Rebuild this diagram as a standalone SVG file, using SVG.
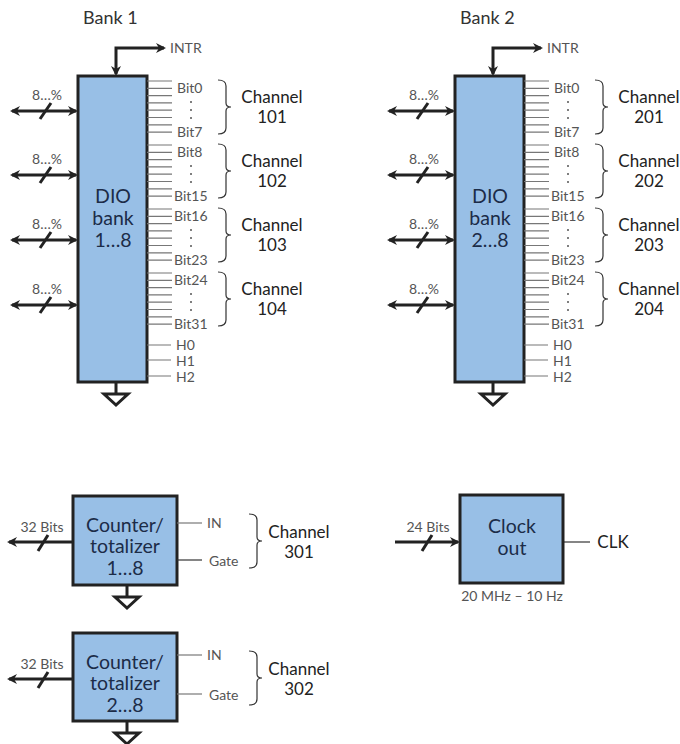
<svg xmlns="http://www.w3.org/2000/svg" width="680" height="744" viewBox="0 0 680 744">
<defs>
<marker id="ah" viewBox="0 0 10 10" refX="8" refY="5" markerWidth="10" markerHeight="10" markerUnits="userSpaceOnUse" orient="auto-start-reverse">
<path d="M0,0 L10,5 L0,10 L3,5 z" fill="#222"/>
</marker>
</defs>
<style>
.box{fill:#98bfe6;stroke:#222;stroke-width:3}
.thick{stroke:#222;stroke-width:3;fill:none}
.pin{stroke:#777;stroke-width:1.2}
.brace{stroke:#333;stroke-width:1.2;fill:none}
.gnd{stroke:#222;stroke-width:3;fill:none;stroke-linejoin:miter}
.title{font-family:Lato,"Open Sans","Liberation Sans",sans-serif;font-size:18px;fill:#333}
.boxt{font-family:Lato,"Open Sans","Liberation Sans",sans-serif;font-size:19.5px;fill:#1c2c48;text-anchor:middle}
.lbl{font-family:Lato,"Open Sans","Liberation Sans",sans-serif;font-size:14px;fill:#555}
.ch{font-family:Lato,"Open Sans","Liberation Sans",sans-serif;font-size:17px;fill:#222;text-anchor:middle}
.sm{font-family:Lato,"Open Sans","Liberation Sans",sans-serif;font-size:14px;fill:#555;text-anchor:middle}
.dot{fill:#555}
</style>
<rect width="680" height="744" fill="#fff"/>

<text class="title" x="83" y="24">Bank 1</text>
<text class="title" x="460" y="24">Bank 2</text>

<g id="connectors">
  <!-- Bank 1 -->
  <path class="thick" d="M164,48 L116,48 L116,74" marker-start="url(#ah)" marker-end="url(#ah)"/>
  <g>
    <line class="thick" x1="12" y1="111" x2="76" y2="111" marker-start="url(#ah)" marker-end="url(#ah)"/>
    <line class="thick" x1="12" y1="175" x2="76" y2="175" marker-start="url(#ah)" marker-end="url(#ah)"/>
    <line class="thick" x1="12" y1="240" x2="76" y2="240" marker-start="url(#ah)" marker-end="url(#ah)"/>
    <line class="thick" x1="12" y1="305" x2="76" y2="305" marker-start="url(#ah)" marker-end="url(#ah)"/>
    <line class="thick" x1="40" y1="119" x2="51" y2="103"/>
    <line class="thick" x1="40" y1="183" x2="51" y2="167"/>
    <line class="thick" x1="40" y1="248" x2="51" y2="232"/>
    <line class="thick" x1="40" y1="313" x2="51" y2="297"/>
  </g>
  <!-- Bank 2 -->
  <path class="thick" d="M541,48 L493,48 L493,74" marker-start="url(#ah)" marker-end="url(#ah)"/>
  <g>
    <line class="thick" x1="389" y1="111" x2="453" y2="111" marker-start="url(#ah)" marker-end="url(#ah)"/>
    <line class="thick" x1="389" y1="175" x2="453" y2="175" marker-start="url(#ah)" marker-end="url(#ah)"/>
    <line class="thick" x1="389" y1="240" x2="453" y2="240" marker-start="url(#ah)" marker-end="url(#ah)"/>
    <line class="thick" x1="389" y1="305" x2="453" y2="305" marker-start="url(#ah)" marker-end="url(#ah)"/>
    <line class="thick" x1="417" y1="119" x2="428" y2="103"/>
    <line class="thick" x1="417" y1="183" x2="428" y2="167"/>
    <line class="thick" x1="417" y1="248" x2="428" y2="232"/>
    <line class="thick" x1="417" y1="313" x2="428" y2="297"/>
  </g>
  <!-- Counter outputs -->
  <line class="thick" x1="72" y1="542" x2="9" y2="542" marker-end="url(#ah)"/>
  <line class="thick" x1="38" y1="551" x2="48" y2="535"/>
  <line class="thick" x1="72" y1="679" x2="9" y2="679" marker-end="url(#ah)"/>
  <line class="thick" x1="38" y1="688" x2="48" y2="672"/>
  <!-- Clock input -->
  <line class="thick" x1="395" y1="542" x2="458" y2="542" marker-end="url(#ah)"/>
  <line class="thick" x1="422" y1="551" x2="432" y2="535"/>
  <line class="pin" x1="564" y1="542" x2="590" y2="542" style="stroke:#333"/>
</g>

<g id="bank1">
  <rect class="box" x="78" y="76" width="69" height="306"/>
  <text class="boxt" x="113" y="203">DIO</text>
  <text class="boxt" x="113" y="225">bank</text>
  <text class="boxt" x="113" y="247">1…8</text>
  <text class="lbl" x="170" y="53">INTR</text>
  <text class="sm" x="47" y="100">8…%</text>
  <text class="sm" x="47" y="164">8…%</text>
  <text class="sm" x="47" y="229">8…%</text>
  <text class="sm" x="47" y="294">8…%</text>
  <g id="b1pins">
    <path class="pin" d="M147,81H172M147,88.3H172M147,95.6H172M147,102.9H172M147,110.2H172M147,117.5H172M147,124.8H172M147,132.1H172"/>
    <path class="pin" d="M147,145H172M147,152.3H172M147,159.6H172M147,166.9H172M147,174.2H172M147,181.5H172M147,188.8H172M147,196.1H172"/>
    <path class="pin" d="M147,209H172M147,216.3H172M147,223.6H172M147,230.9H172M147,238.2H172M147,245.5H172M147,252.8H172M147,260.1H172"/>
    <path class="pin" d="M147,273H172M147,280.3H172M147,287.6H172M147,294.9H172M147,302.2H172M147,309.5H172M147,316.8H172M147,324.1H172"/>
    <path class="pin" d="M147,345H171M147,360H171M147,376H171"/>
  </g>
  <text class="lbl" x="177" y="93">Bit0</text>
  <text class="lbl" x="177" y="137">Bit7</text>
  <text class="lbl" x="177" y="157">Bit8</text>
  <text class="lbl" x="174" y="201">Bit15</text>
  <text class="lbl" x="174" y="221">Bit16</text>
  <text class="lbl" x="174" y="265">Bit23</text>
  <text class="lbl" x="174" y="285">Bit24</text>
  <text class="lbl" x="174" y="329">Bit31</text>
  <text class="lbl" x="176" y="350">H0</text>
  <text class="lbl" x="176" y="366">H1</text>
  <text class="lbl" x="176" y="382">H2</text>
  <g>
    <circle class="dot" cx="191" cy="102" r="1"/><circle class="dot" cx="191" cy="110" r="1"/><circle class="dot" cx="191" cy="118" r="1"/>
    <circle class="dot" cx="191" cy="166" r="1"/><circle class="dot" cx="191" cy="174" r="1"/><circle class="dot" cx="191" cy="182" r="1"/>
    <circle class="dot" cx="191" cy="230" r="1"/><circle class="dot" cx="191" cy="238" r="1"/><circle class="dot" cx="191" cy="246" r="1"/>
    <circle class="dot" cx="191" cy="294" r="1"/><circle class="dot" cx="191" cy="302" r="1"/><circle class="dot" cx="191" cy="310" r="1"/>
  </g>
  <path class="brace" d="M218,80 Q226,80 226,86 L226,103 Q226,107 231,107 Q226,107 226,111 L226,128 Q226,134 218,134"/>
  <path class="brace" d="M218,144 Q226,144 226,150 L226,167 Q226,171 231,171 Q226,171 226,175 L226,192 Q226,198 218,198"/>
  <path class="brace" d="M218,208 Q226,208 226,214 L226,231 Q226,235 231,235 Q226,235 226,239 L226,256 Q226,262 218,262"/>
  <path class="brace" d="M218,272 Q226,272 226,278 L226,295 Q226,299 231,299 Q226,299 226,303 L226,320 Q226,326 218,326"/>
  <text class="ch" x="272" y="103">Channel</text><text class="ch" x="272" y="123">101</text>
  <text class="ch" x="272" y="167">Channel</text><text class="ch" x="272" y="187">102</text>
  <text class="ch" x="272" y="231">Channel</text><text class="ch" x="272" y="251">103</text>
  <text class="ch" x="272" y="295">Channel</text><text class="ch" x="272" y="315">104</text>
  <path class="gnd" d="M116,383 V394 M104,394 H128 L116,405 Z"/>
</g>

<g id="bank2">
  <rect class="box" x="455" y="76" width="69" height="306"/>
  <text class="boxt" x="490" y="203">DIO</text>
  <text class="boxt" x="490" y="225">bank</text>
  <text class="boxt" x="490" y="247">2…8</text>
  <text class="lbl" x="547" y="53">INTR</text>
  <text class="sm" x="424" y="100">8…%</text>
  <text class="sm" x="424" y="164">8…%</text>
  <text class="sm" x="424" y="229">8…%</text>
  <text class="sm" x="424" y="294">8…%</text>
  <g id="b2pins">
    <path class="pin" d="M524,81H549M524,88.3H549M524,95.6H549M524,102.9H549M524,110.2H549M524,117.5H549M524,124.8H549M524,132.1H549"/>
    <path class="pin" d="M524,145H549M524,152.3H549M524,159.6H549M524,166.9H549M524,174.2H549M524,181.5H549M524,188.8H549M524,196.1H549"/>
    <path class="pin" d="M524,209H549M524,216.3H549M524,223.6H549M524,230.9H549M524,238.2H549M524,245.5H549M524,252.8H549M524,260.1H549"/>
    <path class="pin" d="M524,273H549M524,280.3H549M524,287.6H549M524,294.9H549M524,302.2H549M524,309.5H549M524,316.8H549M524,324.1H549"/>
    <path class="pin" d="M524,345H548M524,360H548M524,376H548"/>
  </g>
  <text class="lbl" x="554" y="93">Bit0</text>
  <text class="lbl" x="554" y="137">Bit7</text>
  <text class="lbl" x="554" y="157">Bit8</text>
  <text class="lbl" x="551" y="201">Bit15</text>
  <text class="lbl" x="551" y="221">Bit16</text>
  <text class="lbl" x="551" y="265">Bit23</text>
  <text class="lbl" x="551" y="285">Bit24</text>
  <text class="lbl" x="551" y="329">Bit31</text>
  <text class="lbl" x="553" y="350">H0</text>
  <text class="lbl" x="553" y="366">H1</text>
  <text class="lbl" x="553" y="382">H2</text>
  <g>
    <circle class="dot" cx="568" cy="102" r="1"/><circle class="dot" cx="568" cy="110" r="1"/><circle class="dot" cx="568" cy="118" r="1"/>
    <circle class="dot" cx="568" cy="166" r="1"/><circle class="dot" cx="568" cy="174" r="1"/><circle class="dot" cx="568" cy="182" r="1"/>
    <circle class="dot" cx="568" cy="230" r="1"/><circle class="dot" cx="568" cy="238" r="1"/><circle class="dot" cx="568" cy="246" r="1"/>
    <circle class="dot" cx="568" cy="294" r="1"/><circle class="dot" cx="568" cy="302" r="1"/><circle class="dot" cx="568" cy="310" r="1"/>
  </g>
  <path class="brace" d="M595,80 Q603,80 603,86 L603,103 Q603,107 608,107 Q603,107 603,111 L603,128 Q603,134 595,134"/>
  <path class="brace" d="M595,144 Q603,144 603,150 L603,167 Q603,171 608,171 Q603,171 603,175 L603,192 Q603,198 595,198"/>
  <path class="brace" d="M595,208 Q603,208 603,214 L603,231 Q603,235 608,235 Q603,235 603,239 L603,256 Q603,262 595,262"/>
  <path class="brace" d="M595,272 Q603,272 603,278 L603,295 Q603,299 608,299 Q603,299 603,303 L603,320 Q603,326 595,326"/>
  <text class="ch" x="649" y="103">Channel</text><text class="ch" x="649" y="123">201</text>
  <text class="ch" x="649" y="167">Channel</text><text class="ch" x="649" y="187">202</text>
  <text class="ch" x="649" y="231">Channel</text><text class="ch" x="649" y="251">203</text>
  <text class="ch" x="649" y="295">Channel</text><text class="ch" x="649" y="315">204</text>
  <path class="gnd" d="M493,383 V394 M481,394 H505 L493,405 Z"/>
</g>

<g id="counter1">
  <rect class="box" x="73" y="496" width="104" height="89"/>
  <text class="boxt" x="125" y="532">Counter/</text>
  <text class="boxt" x="125" y="553">totalizer</text>
  <text class="boxt" x="125" y="575">1…8</text>
  <text class="sm" x="42" y="532">32 Bits</text>
  <line class="pin" x1="177" y1="523" x2="202" y2="523"/>
  <line class="pin" x1="177" y1="560" x2="202" y2="560" style="stroke:#333"/>
  <text class="lbl" x="207" y="528">IN</text>
  <text class="lbl" x="209" y="566">Gate</text>
  <path class="brace" d="M249,514 Q257,514 257,520 L257,537 Q257,541 262,541 Q257,541 257,545 L257,562 Q257,568 249,568"/>
  <text class="ch" x="299" y="538">Channel</text><text class="ch" x="299" y="558">301</text>
  <path class="gnd" d="M127,586 V597 M115,597 H139 L127,608 Z"/>
</g>

<g id="counter2">
  <rect class="box" x="73" y="633" width="104" height="88"/>
  <text class="boxt" x="125" y="669">Counter/</text>
  <text class="boxt" x="125" y="690">totalizer</text>
  <text class="boxt" x="125" y="712">2…8</text>
  <text class="sm" x="42" y="669">32 Bits</text>
  <line class="pin" x1="177" y1="655" x2="202" y2="655"/>
  <line class="pin" x1="177" y1="694" x2="202" y2="694"/>
  <text class="lbl" x="207" y="660">IN</text>
  <text class="lbl" x="209" y="700">Gate</text>
  <path class="brace" d="M249,651 Q257,651 257,657 L257,674 Q257,678 262,678 Q257,678 257,682 L257,699 Q257,705 249,705"/>
  <text class="ch" x="299" y="675">Channel</text><text class="ch" x="299" y="695">302</text>
  <path class="gnd" d="M127,722 V733 M115,733 H139 L127,744 Z"/>
</g>

<g id="clock">
  <rect class="box" x="460" y="495" width="103" height="88"/>
  <text class="boxt" x="512" y="533">Clock</text>
  <text class="boxt" x="512" y="555">out</text>
  <text class="sm" x="428" y="532">24 Bits</text>
  <text class="ch" x="613" y="548">CLK</text>
  <text class="sm" x="512" y="601">20 MHz – 10 Hz</text>
</g>
</svg>
